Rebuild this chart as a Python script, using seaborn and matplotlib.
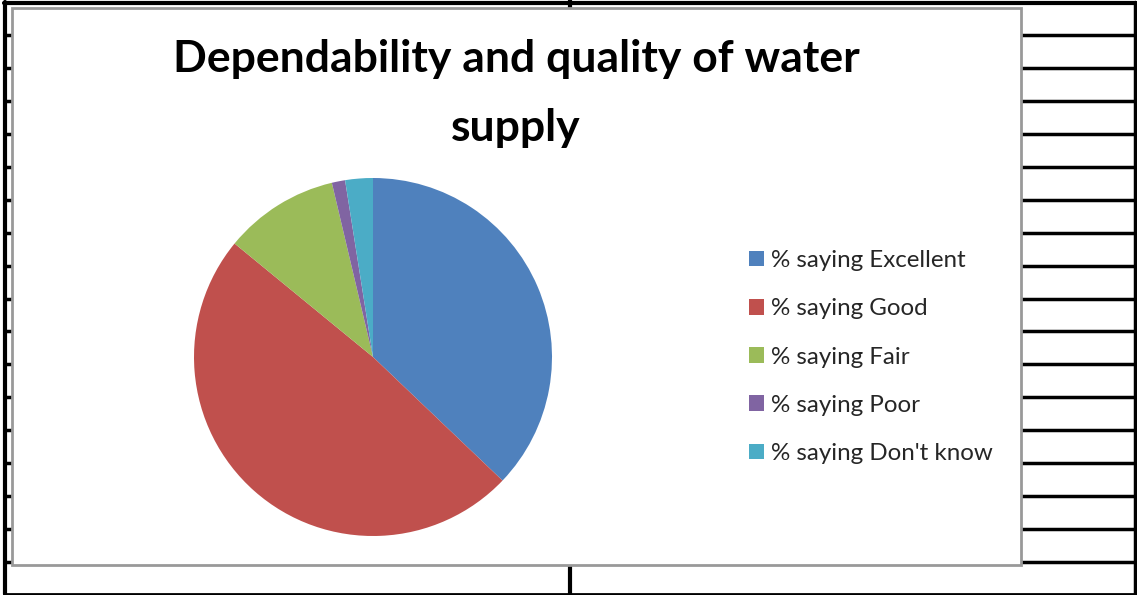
import numpy as np
import matplotlib
matplotlib.use("Agg")
import matplotlib.pyplot as plt
import seaborn as sns
from matplotlib.patches import Rectangle, Patch

# ---------------------------------------------------
# Daten (aus dem Bild geschätzt, Anteile in %)
# ---------------------------------------------------
categories = ["% saying Excellent", "% saying Good", "% saying Fair",
              "% saying Poor", "% saying Don't know"]
shares = [37.2, 48.9, 10.4, 1.2, 2.5]
colors = ["#4F81BD", "#C0504D", "#9BBB59", "#8064A2", "#4BACC6"]
title_lines = ["Dependability and quality of water", "supply"]

W, H = 1137, 595

sns.set_theme(style="white")
plt.rcParams["font.family"] = ["Lato", "DejaVu Sans"]

fig = plt.figure(figsize=(W / 100, H / 100), dpi=100)
fig.patch.set_facecolor("white")

# ---------------------------------------------------
# Hintergrund: Tabellen-Gitter wie in Excel
# ---------------------------------------------------
bg = fig.add_axes([0, 0, 1, 1])
bg.set_xlim(0, W)
bg.set_ylim(H, 0)
bg.axis("off")

row_lines = 35 + np.arange(17) * 32.94
for y in row_lines:
    bg.plot([4, 12], [y, y], color="black", lw=2.5, solid_capstyle="butt")
    bg.plot([1020, 1135], [y, y], color="black", lw=2.5, solid_capstyle="butt")
bg.plot([4.5, 4.5], [2, 594], color="black", lw=3)
bg.plot([1135, 1135], [2, 594], color="black", lw=2.5)
bg.plot([4, 1136], [2.5, 2.5], color="black", lw=3)
bg.plot([4, 1136], [593.5, 593.5], color="black", lw=2)
bg.plot([570, 570], [0, 595], color="black", lw=3)

# Diagrammfläche
bg.add_patch(Rectangle((11.5, 7.5), 1009, 557, facecolor="white",
                       edgecolor="#999999", lw=2, zorder=3))

# ---------------------------------------------------
# Titel
# ---------------------------------------------------
fig.text(516 / W, 1 - 72 / H, title_lines[0], ha="center", va="baseline",
         fontsize=32, fontweight="bold", color="black")
fig.text(516 / W, 1 - 141 / H, title_lines[1], ha="center", va="baseline",
         fontsize=32, fontweight="bold", color="black")

# ---------------------------------------------------
# Kreisdiagramm
# ---------------------------------------------------
cx, cy, r = 373, 357, 179
ax = fig.add_axes([(cx - r) / W, 1 - (cy + r) / H, 2 * r / W, 2 * r / H])
ax.pie(shares, colors=colors, startangle=90, counterclock=False,
       wedgeprops={"linewidth": 0})
ax.set_xlim(-1, 1)
ax.set_ylim(-1, 1)
ax.set_zorder(4)

# ---------------------------------------------------
# Legende
# ---------------------------------------------------
handles = [Patch(facecolor=c, edgecolor="none") for c in colors]
leg = fig.legend(handles, categories, loc="center left",
                 bbox_to_anchor=(749 / W, 1 - 357 / H),
                 frameon=False, fontsize=17.4, borderpad=0, borderaxespad=0,
                 handlelength=0.62, handleheight=0.62, handletextpad=0.3,
                 labelspacing=1.13)
leg.set_zorder(5)

plt.savefig("out.png", dpi=100)
plt.close()
